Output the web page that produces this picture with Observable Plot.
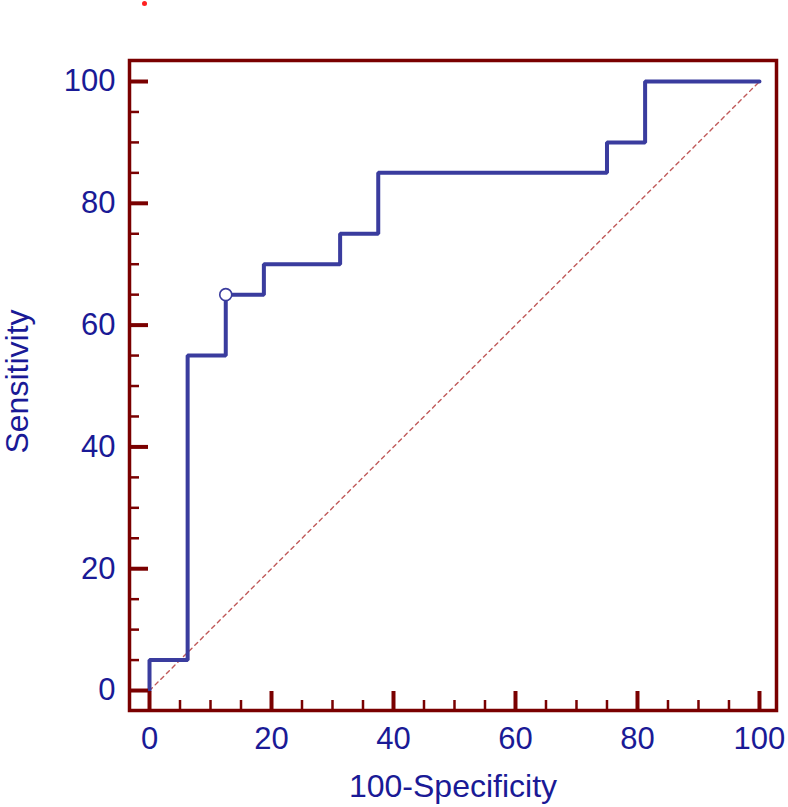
<!DOCTYPE html>
<html>
<head>
<meta charset="utf-8">
<script src="https://cdn.jsdelivr.net/npm/d3@7"></script>
<script src="https://cdn.jsdelivr.net/npm/@observablehq/plot@0.6"></script>
<style>
  html, body { margin: 0; padding: 0; background: #fff; }
  #chart { width: 788px; height: 807px; }
</style>
</head>
<body>
<div id="chart"></div>
<script>
// ROC points (100-Specificity, Sensitivity), drawn as a step curve
const fpr = [0, 0, 6.25, 12.5, 18.75, 31.25, 37.5, 75, 81.25, 100];
const tpr = [0, 5, 55, 65, 70, 75, 85, 90, 100, 100];
// Optimal criterion point
const critFpr = [12.5];
const critTpr = [65];
// Reference diagonal
const diagX = [0, 100];
const diagY = [0, 100];
// Axis ticks
const majorTicks = [0, 20, 40, 60, 80, 100];
const minorTicks = [5, 10, 15, 25, 30, 35, 45, 50, 55, 65, 70, 75, 85, 90, 95];
const xLabel = "100-Specificity";
const yLabel = "Sensitivity";

const W = 788, H = 807;
const mL = 129, mR = 12, mT = 60, mB = 97;
const innerW = W - mL - mR, innerH = H - mT - mB;
const frameColor = "#7a0000";
const textColor = "#1a1a96";
const lineColor = "#3a3c9e";
const majLen = 19, minLen = 10;

const roc = fpr.map((x, i) => ({x, y: tpr[i]}));
const crit = critFpr.map((x, i) => ({x, y: critTpr[i]}));
const diag = diagX.map((x, i) => ({x, y: diagY[i]}));

const chart = Plot.plot({
  width: W,
  height: H,
  marginLeft: mL,
  marginRight: mR,
  marginTop: mT,
  marginBottom: mB,
  style: {fontFamily: "'Liberation Sans', Arial, sans-serif", fontSize: "31px", color: textColor, background: "#fff"},
  x: {domain: [-3.28, 102.79], ticks: majorTicks, tickSize: 0, tickPadding: 16, label: null},
  y: {domain: [-3.28, 103.45], ticks: majorTicks, tickSize: 0, tickPadding: 14, label: null},
  marks: [
    Plot.line(diag, {x: "x", y: "y", stroke: "#c05a5a", strokeWidth: 1.4, strokeDasharray: "4,4"}),
    Plot.line(roc, {x: "x", y: "y", curve: "step-after", stroke: lineColor, strokeWidth: 4, strokeLinejoin: "miter"}),
    Plot.dot(crit, {x: "x", y: "y", r: 6, fill: "#fff", stroke: lineColor, strokeWidth: 1.6}),
    Plot.tickX(majorTicks, {x: d => d, insetTop: innerH - majLen, stroke: frameColor, strokeWidth: 4}),
    Plot.tickX(minorTicks, {x: d => d, insetTop: innerH - minLen, stroke: frameColor, strokeWidth: 2.5}),
    Plot.tickY(majorTicks, {y: d => d, insetRight: innerW - majLen, stroke: frameColor, strokeWidth: 4}),
    Plot.tickY(minorTicks, {y: d => d, insetRight: innerW - minLen, stroke: frameColor, strokeWidth: 2.5}),
    Plot.frame({stroke: frameColor, strokeWidth: 3.5}),
    Plot.text([xLabel], {text: d => d, frameAnchor: "bottom", textAnchor: "middle", lineAnchor: "middle", dy: 76, fill: textColor, fontSize: 32}),
    Plot.text([yLabel], {text: d => d, frameAnchor: "left", textAnchor: "middle", lineAnchor: "middle", rotate: -90, dx: -112, dy: -4, fill: textColor, fontSize: 32}),
    Plot.dot([0], {frameAnchor: "top-left", dx: 15, dy: -57, r: 2.5, fill: "#ff2020", stroke: "none"})
  ]
});
document.getElementById("chart").appendChild(chart);
</script>
</body>
</html>
